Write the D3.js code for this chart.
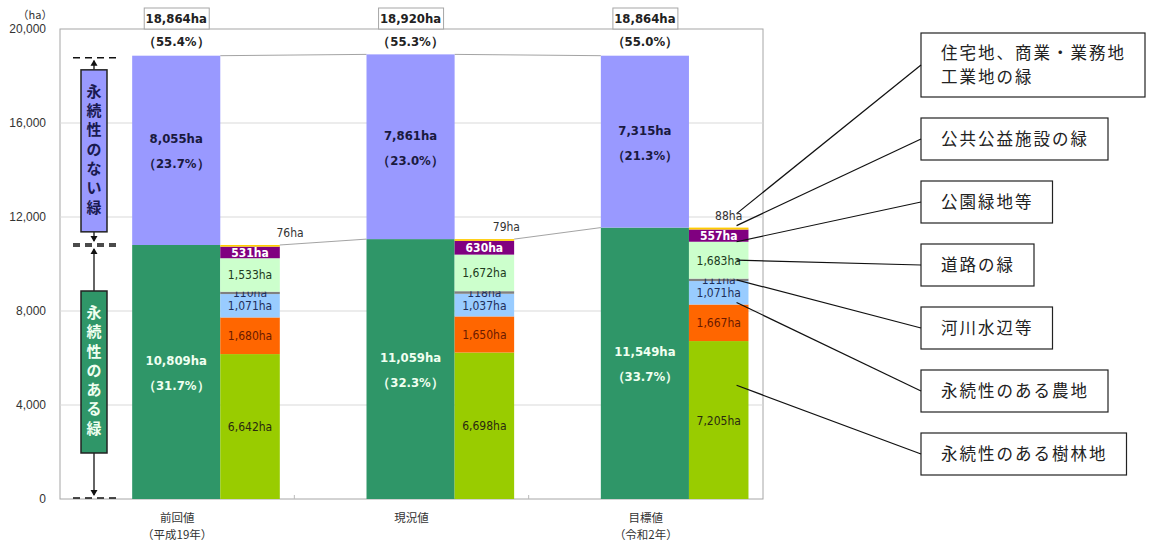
<!DOCTYPE html>
<html lang="ja">
<head>
<meta charset="UTF-8">
<title>緑の量の推移</title>
<script src="https://cdn.jsdelivr.net/npm/d3@7/dist/d3.min.js"></script>
<style>
  body { margin: 0; background: #fff; }
  svg { display: block; }
  .num { font-family: "Liberation Sans Narrow", "DejaVu Sans Condensed", "Liberation Sans", sans-serif; }
  .jp { font-family: "Noto Sans CJK JP", sans-serif; }
</style>
</head>
<body>
<script>
// 区分
var categories = ["前回値", "現況値", "目標値"];
var subLabels = ["（平成19年）", "", "（令和2年）"];

// 永続性のない緑 / 永続性のある緑
var nonPermanent = [8055, 7861, 7315];
var nonPermanentPct = ["23.7%", "23.0%", "21.3%"];
var permanent = [10809, 11059, 11549];
var permanentPct = ["31.7%", "32.3%", "33.7%"];
var totalPct = ["55.4%", "55.3%", "55.0%"];

// 永続性のある緑の内訳（下から）
var forest = [6642, 6698, 7205];
var farmland = [1680, 1650, 1667];
var river = [1071, 1037, 1071];
var road = [110, 118, 111];
var park = [1533, 1672, 1683];
var publicGreen = [531, 630, 557];
var residential = [76, 79, 88];

var yTicks = [0, 4000, 8000, 12000, 16000, 20000];

var subSeries = [
  {key: "forest", name: "永続性のある樹林地", values: forest, color: "#99cc00", text: "#2a2a10"},
  {key: "farmland", name: "永続性のある農地", values: farmland, color: "#ff6600", text: "#6a1a00"},
  {key: "river", name: "河川水辺等", values: river, color: "#99ccff", text: "#1f2f5a"},
  {key: "road", name: "道路の緑", values: road, color: "#808080", text: "#1f2f5a"},
  {key: "park", name: "公園緑地等", values: park, color: "#ccffcc", text: "#203a20"},
  {key: "public", name: "公共公益施設の緑", values: publicGreen, color: "#800080", text: "#ffffff"},
  {key: "residential", name: "住宅地、商業・業務地\n工業地の緑", values: residential, color: "#ffcc00", text: "#333333"}
];

var width = 1151, height = 541;
var plotL = 60, plotR = 763, plotT = 29, plotB = 499;
var fmt = d3.format(",");

var svg = d3.select("body").append("svg").attr("width", width).attr("height", height);

var x = d3.scaleBand().domain(categories).range([plotL, plotR]);
var y = d3.scaleLinear().domain([0, 20000]).range([plotB, plotT]);
var bw = x.bandwidth();
var bigX = function(c) { return x(c) + bw * 0.308; };
var bigW = bw * 0.376;
var smallX = function(c) { return bigX(c) + bigW; };
var smallW = bw * 0.254;

// 枠とグリッド
svg.append("rect").attr("x", plotL).attr("y", plotT).attr("width", plotR - plotL).attr("height", plotB - plotT)
  .attr("fill", "#fff").attr("stroke", "#a6a6a6");
svg.append("g").selectAll("line").data(yTicks.slice(1, -1)).enter().append("line")
  .attr("x1", plotL).attr("x2", plotR).attr("y1", function(d){ return y(d); }).attr("y2", function(d){ return y(d); })
  .attr("stroke", "#d9d9d9");

var yAxis = svg.append("g").attr("class", "num").attr("transform", "translate(" + plotL + ",0)")
  .call(d3.axisLeft(y).tickValues(yTicks).tickSize(0).tickPadding(14).tickFormat(fmt));
yAxis.select(".domain").remove();
yAxis.selectAll("text").attr("font-size", 12).attr("fill", "#333")
  .style("font-family", "'Liberation Sans', sans-serif");
svg.append("text").attr("class", "jp").attr("x", 35).attr("y", 19).attr("text-anchor", "middle")
  .attr("font-size", 11).attr("fill", "#333").text("（ha）");

// 区分境界の目盛
svg.append("g").selectAll("line").data(categories.slice(1)).enter().append("line")
  .attr("x1", function(c){ return x(c); }).attr("x2", function(c){ return x(c); })
  .attr("y1", plotB - 4).attr("y2", plotB).attr("stroke", "#bbb");

// 系列線（棒の上端どうし）
for (var i = 0; i < categories.length - 1; i++) {
  var c0 = categories[i], c1 = categories[i + 1];
  svg.append("line").attr("x1", bigX(c0) + bigW).attr("y1", y(permanent[i] + nonPermanent[i]))
    .attr("x2", bigX(c1)).attr("y2", y(permanent[i + 1] + nonPermanent[i + 1]))
    .attr("stroke", "#8c8c8c").attr("stroke-width", 0.8);
  svg.append("line").attr("x1", smallX(c0) + smallW).attr("y1", y(permanent[i]))
    .attr("x2", bigX(c1)).attr("y2", y(permanent[i + 1]))
    .attr("stroke", "#8c8c8c").attr("stroke-width", 0.8);
}

// 大きい棒
var bars = svg.append("g");
bars.selectAll(".perm").data(categories).enter().append("rect")
  .attr("x", bigX).attr("width", bigW)
  .attr("y", function(c, i){ return y(permanent[i]); })
  .attr("height", function(c, i){ return y(0) - y(permanent[i]); })
  .attr("fill", "#2f9668");
bars.selectAll(".nonperm").data(categories).enter().append("rect")
  .attr("x", bigX).attr("width", bigW)
  .attr("y", function(c, i){ return y(permanent[i] + nonPermanent[i]); })
  .attr("height", function(c, i){ return y(permanent[i]) - y(permanent[i] + nonPermanent[i]); })
  .attr("fill", "#9999ff");

function twoLine(g, cx, cy, l1, l2, color, size) {
  var t = g.append("text").attr("class", "num").attr("text-anchor", "middle")
    .attr("font-size", size).attr("fill", color).attr("font-weight", "bold");
  t.append("tspan").attr("x", cx).attr("y", cy - 7).text(l1);
  t.append("tspan").attr("x", cx).attr("y", cy + 18).text(l2);
}
categories.forEach(function(c, i) {
  var cx = bigX(c) + bigW / 2;
  var top = permanent[i] + nonPermanent[i];
  twoLine(svg, cx, (y(top) + y(permanent[i])) / 2, fmt(nonPermanent[i]) + "ha", "（" + nonPermanentPct[i] + "）", "#1a1a40", 13);
  twoLine(svg, cx, (y(permanent[i]) + y(0)) / 2, fmt(permanent[i]) + "ha", "（" + permanentPct[i] + "）", "#f0fff0", 13);
  // 合計ラベル
  svg.append("rect").attr("x", cx - 32).attr("y", 8).attr("width", 65).attr("height", plotT - 8)
    .attr("fill", "#fff").attr("stroke", "#a6a6a6");
  svg.append("text").attr("class", "num").attr("x", cx).attr("y", 23).attr("text-anchor", "middle")
    .attr("font-size", 13).attr("font-weight", "bold").attr("fill", "#222").text(fmt(top) + "ha");
  svg.append("text").attr("class", "num").attr("x", cx).attr("y", 46).attr("text-anchor", "middle")
    .attr("font-size", 13).attr("font-weight", "bold").attr("fill", "#222").text("（" + totalPct[i] + "）");
});

// 内訳の棒（永続性のある緑の高さに合わせて積み上げ）
var residentialDx = [40, 22, 10];
var segPos = categories.map(function(c, i) {
  var sum = d3.sum(subSeries, function(s){ return s.values[i]; });
  var k = permanent[i] / sum, acc = 0, pos = {};
  subSeries.forEach(function(s) {
    var v0 = acc; acc += s.values[i] * k;
    pos[s.key] = {y0: y(acc), y1: y(v0)};
  });
  return pos;
});
categories.forEach(function(c, i) {
  subSeries.forEach(function(s) {
    var p = segPos[i][s.key];
    svg.append("rect").attr("x", smallX(c)).attr("width", smallW)
      .attr("y", p.y0).attr("height", Math.max(p.y1 - p.y0, 1.2)).attr("fill", s.color);
    var tx = smallX(c) + smallW / 2, ty = (p.y0 + p.y1) / 2 + 4.5;
    if (s.key === "residential") { tx = smallX(c) + smallW / 2 + residentialDx[i]; ty = p.y0 - 8; }
    svg.append("text").attr("class", "num").attr("x", tx).attr("y", ty).attr("text-anchor", "middle")
      .attr("font-size", 12).attr("font-weight", s.key === "public" ? "bold" : "normal")
      .attr("fill", s.text).text(fmt(s.values[i]) + "ha");
  });
});

// 左側の注記
function sideNote(yTop, yBot, label, fill, textColor) {
  var bx = 81, bwid = 26, bh = 162;
  var cy = (yTop + yBot) / 2, by = cy - bh / 2, ax = bx + bwid / 2;
  var g = svg.append("g");
  [yTop, yBot].forEach(function(yy) {
    g.append("line").attr("x1", 73).attr("x2", 116).attr("y1", yy).attr("y2", yy)
      .attr("stroke", "#111").attr("stroke-width", 1.4).attr("stroke-dasharray", "7,5");
  });
  g.append("line").attr("x1", ax).attr("x2", ax).attr("y1", by).attr("y2", yTop + 3).attr("stroke", "#111").attr("stroke-width", 1.3);
  g.append("line").attr("x1", ax).attr("x2", ax).attr("y1", by + bh).attr("y2", yBot - 3).attr("stroke", "#111").attr("stroke-width", 1.3);
  g.append("path").attr("d", "M" + (ax - 3.5) + "," + (yTop + 8) + "L" + ax + "," + (yTop + 2) + "L" + (ax + 3.5) + "," + (yTop + 8) + "Z").attr("fill", "#111");
  g.append("path").attr("d", "M" + (ax - 3.5) + "," + (yBot - 8) + "L" + ax + "," + (yBot - 2) + "L" + (ax + 3.5) + "," + (yBot - 8) + "Z").attr("fill", "#111");
  g.append("rect").attr("x", bx).attr("y", by).attr("width", bwid).attr("height", bh)
    .attr("fill", fill).attr("stroke", "#222").attr("stroke-width", 1.5);
  label.split("").forEach(function(ch, k) {
    g.append("text").attr("class", "jp").attr("x", ax).attr("y", cy - 54 + k * 19.3).attr("text-anchor", "middle")
      .attr("font-size", 15).attr("font-weight", "bold").attr("fill", textColor).text(ch);
  });
}
sideNote(y(permanent[0] + nonPermanent[0]) + 2, y(permanent[0]) - 1, "永続性のない緑", "#9999ff", "#1a1a50");
sideNote(y(permanent[0]) + 1, y(0) - 1, "永続性のある緑", "#2f9668", "#f0fff0");

// x軸ラベル
categories.forEach(function(c, i) {
  var cx = x(c) + bw / 2;
  svg.append("text").attr("class", "jp").attr("x", cx).attr("y", 522).attr("text-anchor", "middle")
    .attr("font-size", 11.5).attr("fill", "#333").text(c);
  if (subLabels[i]) svg.append("text").attr("class", "jp").attr("x", cx).attr("y", 539).attr("text-anchor", "middle")
    .attr("font-size", 11.5).attr("fill", "#333").text(subLabels[i]);
});

// 凡例ボックスと引出線（目標値の棒から）
var legendOrder = ["residential", "public", "park", "road", "river", "farmland", "forest"];
var leaderAt = [
  {seg: "residential", frac: 0, dy: -14},
  {seg: "residential", frac: 0, dy: -2},
  {seg: "park", frac: 0, dy: 0},
  {seg: "park", frac: 0.5, dy: 0},
  {seg: "road", frac: 0.5, dy: 0},
  {seg: "river", frac: 1, dy: -2},
  {seg: "forest", frac: 0.28, dy: 0}
];
var last = categories.length - 1;
var lx = 921;
legendOrder.forEach(function(key, k) {
  var s = subSeries.filter(function(d){ return d.key === key; })[0];
  var lines = s.name.split("\n");
  var bh = lines.length > 1 ? 64 : 42;
  var by = k === 0 ? 33 : 118 + (k - 1) * 63;
  var g = svg.append("g");
  var rect = g.append("rect").attr("x", lx).attr("y", by).attr("height", bh)
    .attr("fill", "#fff").attr("stroke", "#222").attr("stroke-width", 1.2);
  var maxW = 0;
  lines.forEach(function(t, j) {
    var tt = g.append("text").attr("class", "jp").attr("x", lx + 20)
      .attr("y", by + bh / 2 + 6 + (j - (lines.length - 1) / 2) * 24)
      .attr("font-size", 16.5).attr("letter-spacing", 2).attr("fill", "#222").text(t);
    maxW = Math.max(maxW, tt.node().getComputedTextLength());
  });
  rect.attr("width", maxW + 39);
  var a = leaderAt[k], p = segPos[last][a.seg];
  var ay = p.y0 + (p.y1 - p.y0) * a.frac + a.dy;
  var ax = smallX(categories[last]) + smallW * 0.8;
  svg.append("line").attr("x1", ax).attr("y1", ay).attr("x2", lx).attr("y2", by + bh / 2)
    .attr("stroke", "#111").attr("stroke-width", 1.2);
});
</script>
</body>
</html>
